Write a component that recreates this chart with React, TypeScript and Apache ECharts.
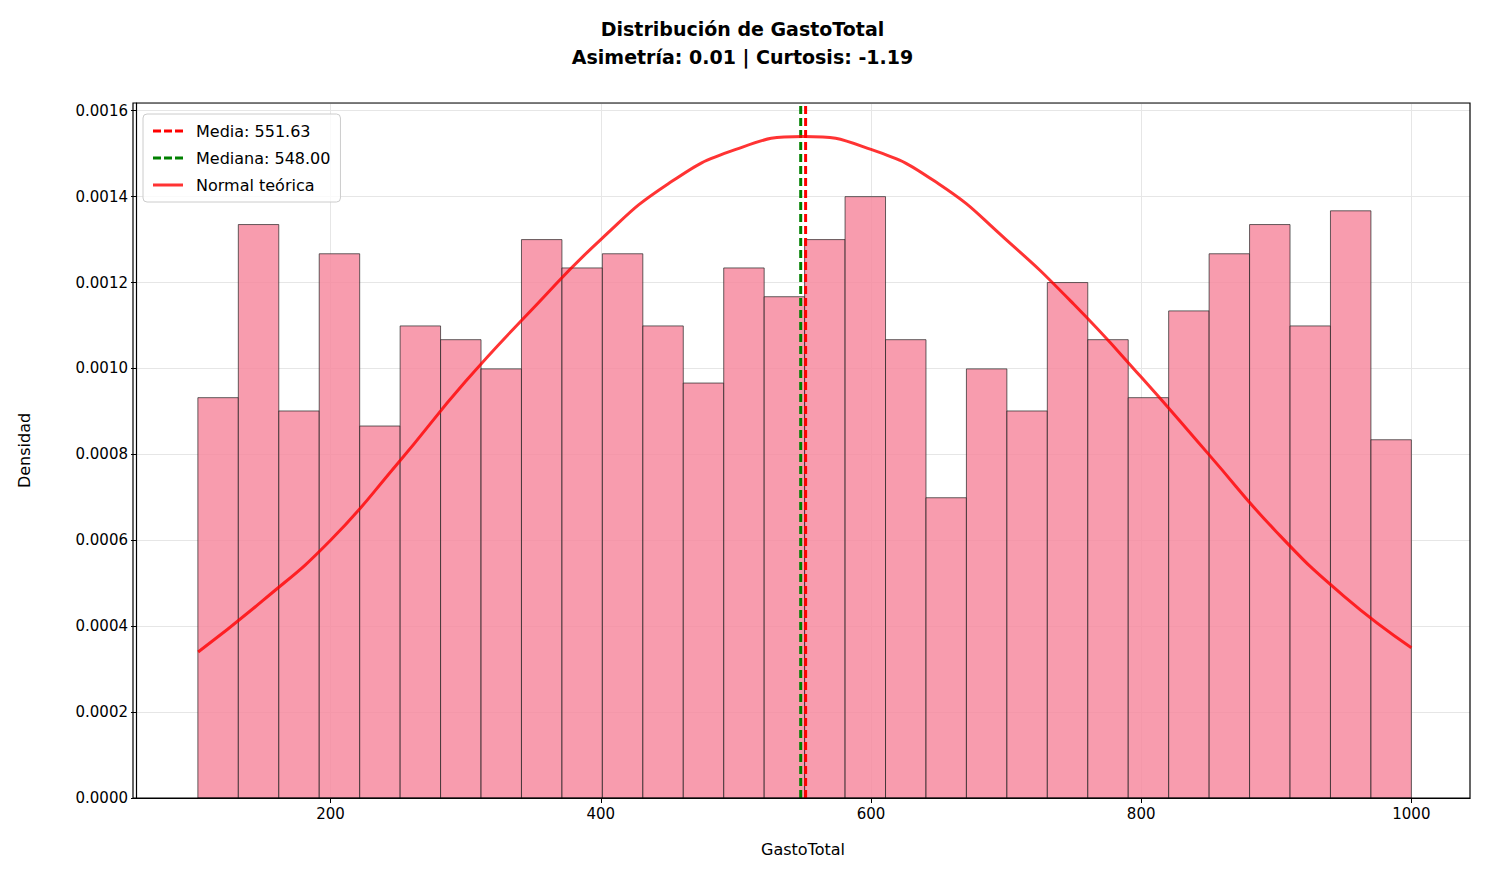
import * as echarts from "echarts"
import { useEffect, useRef } from "react"

const binStart = 101.8
const binWidth = 29.94
const densities = [
  0.000932, 0.001335, 0.000901, 0.001267, 0.000866, 0.001099, 0.001067, 0.000999, 0.0013, 0.001234,
  0.001267, 0.001099, 0.000966, 0.001234, 0.001167, 0.0013, 0.0014, 0.001067, 0.000699, 0.000999,
  0.000901, 0.0012, 0.001067, 0.000932, 0.001134, 0.001267, 0.001335, 0.001099, 0.001367, 0.000834,
]
const normalX = [102, 150, 200, 250, 300, 350, 400, 450, 500, 550, 600, 650, 700, 750, 800, 850, 900, 950, 1000]
const normalY = [
  0.00034, 0.00046, 0.0006, 0.00078, 0.00097, 0.00114, 0.0013, 0.00143, 0.00151, 0.00154, 0.00151, 0.00143,
  0.00130, 0.00115, 0.00098, 0.0008, 0.00062, 0.00047, 0.00035,
]
const mean = 551.63
const median = 548.0
const xTicks = [200, 400, 600, 800, 1000]

const dashIcon = "path://M0,0h8v3h-8z M11,0h8v3h-8z M22,0h8v3h-8z"
const solidIcon = "path://M0,0h30v3h-30z"

const W = 1469
const H = 863
const G = { left: 125, right: 7, top: 95, bottom: 73 }

export default function App() {
  const ref = useRef<HTMLDivElement>(null)

  useEffect(() => {
    if (!ref.current) return
    const chart = echarts.init(ref.current, null, { renderer: "svg" })
    const font = "DejaVu Sans"
    const bins = densities.map((d, i) => [binStart + i * binWidth, binStart + (i + 1) * binWidth, d])

    chart.setOption({
      animation: false,
      textStyle: { fontFamily: font },
      title: {
        text: "Distribución de GastoTotal\nAsimetría: 0.01 | Curtosis: -1.19",
        left: "center",
        top: 2,
        textStyle: { fontSize: 19, fontWeight: "bold", color: "#000", lineHeight: 28, fontFamily: font },
      },
      graphic: [
        {
          type: "rect",
          shape: { x: G.left, y: G.top, width: W - G.left - G.right, height: H - G.top - G.bottom },
          style: { fill: "none", stroke: "#000", lineWidth: 1.2 },
          silent: true,
          z: 10,
        },
      ],
      legend: {
        orient: "vertical",
        left: 135,
        top: 106,
        padding: [9, 10, 9, 10],
        itemGap: 11,
        itemWidth: 30,
        itemHeight: 3,
        backgroundColor: "rgba(255,255,255,0.8)",
        borderColor: "#ccc",
        borderWidth: 1,
        borderRadius: 4,
        textStyle: { fontSize: 16, color: "#000", fontFamily: font, padding: [0, 0, 0, 8] },
        data: [
          { name: "Media: 551.63", icon: dashIcon },
          { name: "Mediana: 548.00", icon: dashIcon },
          { name: "Normal teórica", icon: solidIcon },
        ],
      },
      grid: G,
      xAxis: {
        type: "value",
        min: 56,
        max: 1043.4,
        name: "GastoTotal",
        nameLocation: "middle",
        nameGap: 43,
        nameTextStyle: { fontSize: 16, color: "#000" },
        axisLine: { lineStyle: { color: "#000", width: 1.2 } },
        axisTick: { show: true, customValues: xTicks, length: 5, lineStyle: { color: "#000" } },
        axisLabel: { customValues: xTicks, fontSize: 15, color: "#000", formatter: (v: number) => String(v) },
        splitLine: { show: true, lineStyle: { color: "#e6e6e6" } },
      },
      yAxis: {
        type: "value",
        min: 0,
        max: 0.001618,
        interval: 0.0002,
        name: "Densidad",
        nameLocation: "middle",
        nameGap: 104,
        nameTextStyle: { fontSize: 16, color: "#000" },
        axisLine: { show: true, lineStyle: { color: "#000", width: 1.2 } },
        axisTick: { show: true, length: 5, lineStyle: { color: "#000" } },
        axisLabel: { fontSize: 15, color: "#000", showMaxLabel: false, formatter: (v: number) => v.toFixed(4) },
        splitLine: { show: true, lineStyle: { color: "#e6e6e6" } },
      },
      series: [
        {
          type: "custom",
          name: "hist",
          data: bins,
          encode: { x: [0, 1], y: 2 },
          renderItem: (_p: any, api: any) => {
            const a = api.coord([api.value(0), api.value(2)])
            const b = api.coord([api.value(1), 0])
            return {
              type: "rect",
              shape: { x: a[0], y: a[1], width: b[0] - a[0], height: b[1] - a[1] },
              style: { fill: "rgba(246,134,156,0.82)", stroke: "#222", lineWidth: 0.7 },
            }
          },
          z: 1,
        },
        {
          type: "line",
          name: "Normal teórica",
          data: normalX.map((x, i) => [x, normalY[i]]),
          smooth: 0.5,
          showSymbol: false,
          lineStyle: { color: "rgba(255,0,0,0.8)", width: 3 },
          itemStyle: { color: "rgba(255,0,0,0.8)" },
          z: 4,
        },
        {
          type: "line",
          name: "Media: 551.63",
          data: [[mean, 0], [mean, 0.001618]],
          showSymbol: false,
          lineStyle: { color: "#ff0000", width: 3, type: [8, 4] },
          itemStyle: { color: "#ff0000" },
          z: 3,
        },
        {
          type: "line",
          name: "Mediana: 548.00",
          data: [[median, 0], [median, 0.001618]],
          showSymbol: false,
          lineStyle: { color: "#008000", width: 3, type: [8, 4] },
          itemStyle: { color: "#008000" },
          z: 3,
        },
      ],
    })
    return () => chart.dispose()
  }, [])

  return <div ref={ref} style={{ width: W, height: H }} />
}
